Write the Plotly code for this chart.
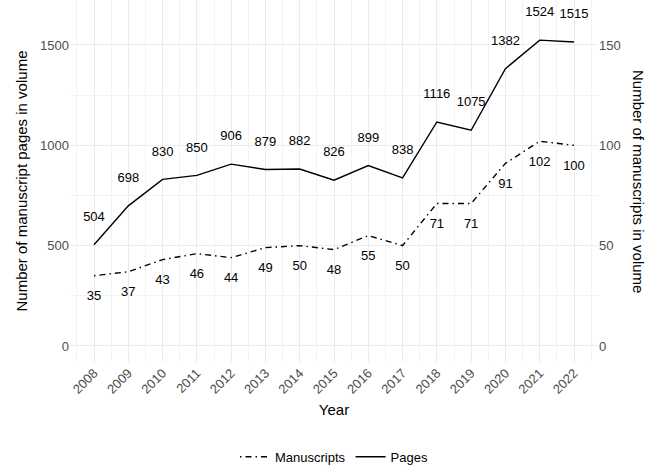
import plotly.graph_objects as go

years = list(range(2008, 2023))
pages = [504, 698, 830, 850, 906, 879, 882, 826, 899, 838, 1116, 1075, 1382, 1524, 1515]
manuscripts = [35, 37, 43, 46, 44, 49, 50, 48, 55, 50, 71, 71, 91, 102, 100]

PAGE_NUDGE = 135     # label offset above pages line (left-axis units)
MS_NUDGE = 10.5      # label offset below manuscripts line (right-axis units)

FONT = "Liberation Sans, Arial, sans-serif"

fig = go.Figure()

fig.add_trace(go.Scatter(
    x=years, y=manuscripts, yaxis="y2", mode="lines", name="Manuscripts",
    line=dict(color="black", width=1.4, dash="1.5px,4px,6px,4px"),
))
fig.add_trace(go.Scatter(
    x=years, y=pages, mode="lines", name="Pages",
    line=dict(color="black", width=1.4),
))
fig.add_trace(go.Scatter(
    x=years, y=[p + PAGE_NUDGE for p in pages], mode="text",
    text=[str(p) for p in pages], textposition="middle center",
    textfont=dict(size=13, color="black", family=FONT),
    showlegend=False, hoverinfo="skip",
))
fig.add_trace(go.Scatter(
    x=years, y=[m - MS_NUDGE for m in manuscripts], yaxis="y2", mode="text",
    text=[str(m) for m in manuscripts], textposition="middle center",
    textfont=dict(size=13, color="black", family=FONT),
    showlegend=False, hoverinfo="skip",
))

grid_major = "#ebebeb"
grid_minor = "#f3f3f3"

fig.update_layout(
    width=653, height=467,
    margin=dict(l=70, r=55, t=0, b=105, autoexpand=False),
    paper_bgcolor="white", plot_bgcolor="white",
    font=dict(family=FONT, size=13, color="black"),
    xaxis=dict(
        range=[2007.3, 2022.7], tickmode="linear", tick0=2008, dtick=1,
        tickangle=-45, tickfont=dict(size=13, color="#4d4d4d"),
        showgrid=True, gridcolor=grid_major, gridwidth=1,
        minor=dict(dtick=0.5, tick0=2007.5, showgrid=True, gridcolor=grid_minor, gridwidth=0.8),
        zeroline=False, showline=False, ticks="", automargin=False,
        title=dict(text="Year", font=dict(size=15, color="black"), standoff=8),
    ),
    yaxis=dict(
        range=[-80, 1724], tickvals=[0, 500, 1000, 1500],
        tickfont=dict(size=13, color="#4d4d4d"),
        showgrid=True, gridcolor=grid_major, gridwidth=1,
        minor=dict(tickvals=[250, 750, 1250], showgrid=True, gridcolor=grid_minor, gridwidth=0.8),
        zeroline=False, showline=False, ticks="", automargin=False,
        title=dict(text="Number of manuscript pages in volume", font=dict(size=15, color="black"), standoff=8),
    ),
    yaxis2=dict(
        range=[-8, 172.4], tickvals=[0, 50, 100, 150], overlaying="y", side="right",
        tickfont=dict(size=13, color="#4d4d4d"), showgrid=False, zeroline=False,
        showline=False, ticks="", automargin=False,
    ),
    annotations=[dict(
        text="Number of manuscripts in volume", textangle=90,
        xref="paper", yref="paper", x=1.0, xshift=41, y=0.5, yanchor="middle", xanchor="center",
        showarrow=False, font=dict(size=15, color="black"),
    )],
    legend=dict(
        orientation="h", x=0.5, xanchor="center", xref="paper",
        yref="paper", y=-0.262, yanchor="middle",
        font=dict(size=13), itemwidth=30, bgcolor="rgba(0,0,0,0)",
    ),
)

fig.write_html(
    "out.html",
    config={"displayModeBar": False},
    post_script="document.body.style.margin='0';document.body.style.padding='0';document.body.style.overflow='hidden';",
)
